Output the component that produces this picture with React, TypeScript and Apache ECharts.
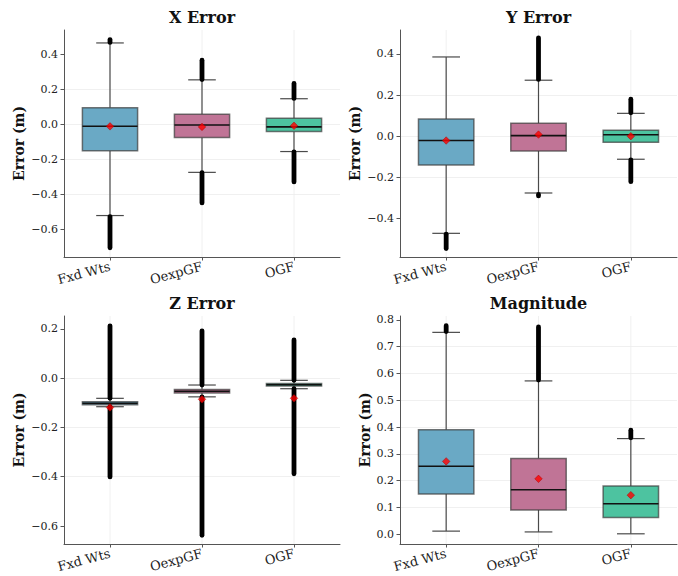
import React, { useEffect, useRef } from "react";
import * as echarts from "echarts";

const categories = ["Fxd Wts", "OexpGF", "OGF"];
const panelTitles = ["X Error", "Y Error", "Z Error", "Magnitude"];
const yAxisTitle = "Error (m)";

// box stats: [lower whisker, q1, median, q3, upper whisker]
const xErrBox = [
  [-0.522, -0.152, -0.011, 0.095, 0.465],
  [-0.275, -0.076, -0.004, 0.057, 0.254],
  [-0.156, -0.042, -0.015, 0.034, 0.146],
];
const xErrMean = [-0.012, -0.015, -0.009];
// outlier clusters: [category index, from, to]
const xErrOutliers = [
  [0, 0.468, 0.484], [0, -0.706, -0.528],
  [1, 0.256, 0.366], [1, -0.45, -0.277],
  [2, 0.148, 0.233], [2, -0.33, -0.158],
];

const yErrBox = [
  [-0.472, -0.14, -0.021, 0.083, 0.385],
  [-0.276, -0.072, 0.003, 0.063, 0.272],
  [-0.112, -0.029, 0.007, 0.029, 0.111],
];
const yErrMean = [-0.021, 0.008, 0.0];
const yErrOutliers = [
  [0, -0.546, -0.476],
  [1, 0.276, 0.478], [1, -0.29, -0.283],
  [2, 0.114, 0.18], [2, -0.221, -0.115],
];

const zErrBox = [
  [-0.116, -0.108, -0.102, -0.096, -0.082],
  [-0.076, -0.06, -0.053, -0.046, -0.028],
  [-0.043, -0.032, -0.027, -0.0215, -0.009],
];
const zErrMean = [-0.119, -0.086, -0.082];
const zErrOutliers = [
  [0, -0.082, 0.212], [0, -0.401, -0.116],
  [1, -0.028, 0.192], [1, -0.638, -0.076],
  [2, -0.009, 0.155], [2, -0.388, -0.043],
];

const magBox = [
  [0.012, 0.15, 0.254, 0.39, 0.753],
  [0.009, 0.091, 0.166, 0.283, 0.572],
  [0.002, 0.063, 0.114, 0.18, 0.357],
];
const magMean = [0.272, 0.207, 0.146];
const magOutliers = [[0, 0.756, 0.778], [1, 0.575, 0.773], [2, 0.36, 0.388]];

const xErrTicks = [-0.6, -0.4, -0.2, 0, 0.2, 0.4];
const yErrTicks = [-0.4, -0.2, 0, 0.2, 0.4];
const zErrTicks = [-0.6, -0.4, -0.2, 0, 0.2];
const magTicks = [0, 0.1, 0.2, 0.3, 0.4, 0.5, 0.6, 0.7, 0.8];

const boxColors = ["#6aa9c5", "#c07496", "#4dc3a0"];
const FONT = "DejaVu Serif";

const panels = [
  { box: xErrBox, mean: xErrMean, out: xErrOutliers, ticks: xErrTicks, min: -0.759, max: 0.539, split: 6 },
  { box: yErrBox, mean: yErrMean, out: yErrOutliers, ticks: yErrTicks, min: -0.587, max: 0.516, split: 6 },
  { box: zErrBox, mean: zErrMean, out: zErrOutliers, ticks: zErrTicks, min: -0.673, max: 0.252, split: 5 },
  { box: magBox, mean: magMean, out: magOutliers, ticks: magTicks, min: -0.036, max: 0.814, split: 8 },
];

const grids = [
  { left: 64, top: 30, width: 276, height: 227 },
  { left: 400, top: 30, width: 277, height: 227 },
  { left: 64, top: 316, width: 276, height: 228 },
  { left: 400, top: 316, width: 277, height: 228 },
];
const nameX = [19, 355, 19, 365];

const fmt = (v: number) => "{a|" + v.toFixed(1).replace("-", "\u2212") + "}";

function renderVGrid(params: any, api: any) {
  const cat = api.value(0);
  const p = api.coord([cat, 0]);
  const cs = params.coordSys;
  return {
    type: "line",
    shape: { x1: p[0], y1: cs.y, x2: p[0], y2: cs.y + cs.height },
    style: { stroke: "#ececec", lineWidth: 0.8 },
    silent: true,
  };
}

function renderBox(params: any, api: any) {
  const cat = api.value(0);
  const lo = api.coord([cat, api.value(1)]);
  const q1 = api.coord([cat, api.value(2)]);
  const med = api.coord([cat, api.value(3)]);
  const q3 = api.coord([cat, api.value(4)]);
  const hi = api.coord([cat, api.value(5)]);
  const x = lo[0];
  const band = api.size([1, 0])[0];
  const bw = band * 0.6;
  const cw = bw * 0.5;
  const whisker = { stroke: "#4a4a4a", lineWidth: 1.2 };
  return {
    type: "group",
    children: [
      { type: "line", shape: { x1: x, y1: q3[1], x2: x, y2: hi[1] }, style: whisker },
      { type: "line", shape: { x1: x, y1: q1[1], x2: x, y2: lo[1] }, style: whisker },
      { type: "line", shape: { x1: x - cw / 2, y1: hi[1], x2: x + cw / 2, y2: hi[1] }, style: whisker },
      { type: "line", shape: { x1: x - cw / 2, y1: lo[1], x2: x + cw / 2, y2: lo[1] }, style: whisker },
      {
        type: "rect",
        shape: { x: x - bw / 2, y: q3[1], width: bw, height: q1[1] - q3[1] },
        style: { fill: boxColors[cat], stroke: "rgba(60,60,60,0.7)", lineWidth: 1.5 },
      },
      { type: "line", shape: { x1: x - bw / 2, y1: med[1], x2: x + bw / 2, y2: med[1] }, style: { stroke: "#111", lineWidth: 1.6 } },
    ],
  };
}

function renderOut(params: any, api: any) {
  const cat = api.value(0);
  const a = api.coord([cat, api.value(1)]);
  const b = api.coord([cat, api.value(2)]);
  return {
    type: "line",
    shape: { x1: a[0], y1: a[1], x2: b[0], y2: b[1] },
    style: { stroke: "#000", lineWidth: 4.8, lineCap: "round" },
  };
}

export default function App() {
  const ref = useRef<HTMLDivElement>(null);
  useEffect(() => {
    if (!ref.current) return;
    const chart = echarts.init(ref.current, null, { renderer: "svg" });
    const xAxis: any[] = [];
    const yAxis: any[] = [];
    const series: any[] = [];
    const graphic: any[] = [];
    panels.forEach((p, i) => {
      xAxis.push({
        type: "category",
        gridIndex: i,
        data: categories,
        boundaryGap: true,
        axisLine: { show: true, onZero: false, lineStyle: { color: "#555", width: 1 } },
        axisTick: { show: true, alignWithLabel: true, length: 3.5, lineStyle: { color: "#555" } },
        axisLabel: {
          rotate: 15,
          margin: 9,
          formatter: (v: string) => "{a|" + v + "}",
          rich: { a: { fontSize: 13, fontFamily: FONT, color: "#222" } },
        },
        splitLine: { show: false },
      });
      yAxis.push({
        type: "value",
        gridIndex: i,
        min: p.min,
        max: p.max,
        splitNumber: p.split,
        axisLine: { show: true, onZero: false, lineStyle: { color: "#555", width: 1 } },
        axisTick: { show: true, length: 3.5, customValues: p.ticks, lineStyle: { color: "#555" } },
        axisLabel: {
          customValues: p.ticks,
          formatter: fmt,
          margin: 6,
          rich: { a: { fontSize: 11, fontFamily: FONT, color: "#222" } },
        },
        splitLine: { show: true, showMinLine: false, showMaxLine: false, lineStyle: { color: "#ececec", width: 0.8 } },
      });
      series.push({
        type: "custom",
        xAxisIndex: i,
        yAxisIndex: i,
        z: 1,
        silent: true,
        renderItem: renderVGrid,
        data: categories.map((_, k) => [k]),
      });
      series.push({
        type: "custom",
        name: panelTitles[i],
        xAxisIndex: i,
        yAxisIndex: i,
        z: 2,
        renderItem: renderBox,
        encode: { x: 0, y: [1, 2, 3, 4, 5] },
        data: p.box.map((b, k) => [k, ...b]),
      });
      series.push({
        type: "custom",
        xAxisIndex: i,
        yAxisIndex: i,
        z: 3,
        renderItem: renderOut,
        encode: { x: 0, y: [1, 2] },
        data: p.out,
      });
      series.push({
        type: "scatter",
        xAxisIndex: i,
        yAxisIndex: i,
        z: 4,
        symbol: "diamond",
        symbolSize: 7.5,
        itemStyle: { color: "#ff0000", borderColor: "#aa0000", borderWidth: 0.6 },
        data: p.mean.map((m, k) => [k, m]),
      });
      const g = grids[i];
      graphic.push({
        type: "text",
        x: g.left + g.width / 2,
        y: g.top - 13,
        style: {
          text: panelTitles[i],
          font: `bold 16px "${FONT}"`,
          fill: "#111",
          textAlign: "center",
          textVerticalAlign: "middle",
        },
      });
      graphic.push({
        type: "text",
        x: nameX[i],
        y: g.top + g.height / 2,
        rotation: Math.PI / 2,
        style: {
          text: yAxisTitle,
          font: `bold 14px "${FONT}"`,
          fill: "#111",
          textAlign: "center",
          textVerticalAlign: "middle",
        },
      });
    });
    chart.setOption({
      animation: false,
      backgroundColor: "#ffffff",
      textStyle: { fontFamily: FONT },
      grid: grids.map((g) => ({ ...g, containLabel: false })),
      xAxis,
      yAxis,
      series,
      graphic,
    });
    return () => chart.dispose();
  }, []);
  return (
    <div
      ref={ref}
      style={{ position: "absolute", left: 0, top: 0, width: 678, height: 576 }}
    />
  );
}
